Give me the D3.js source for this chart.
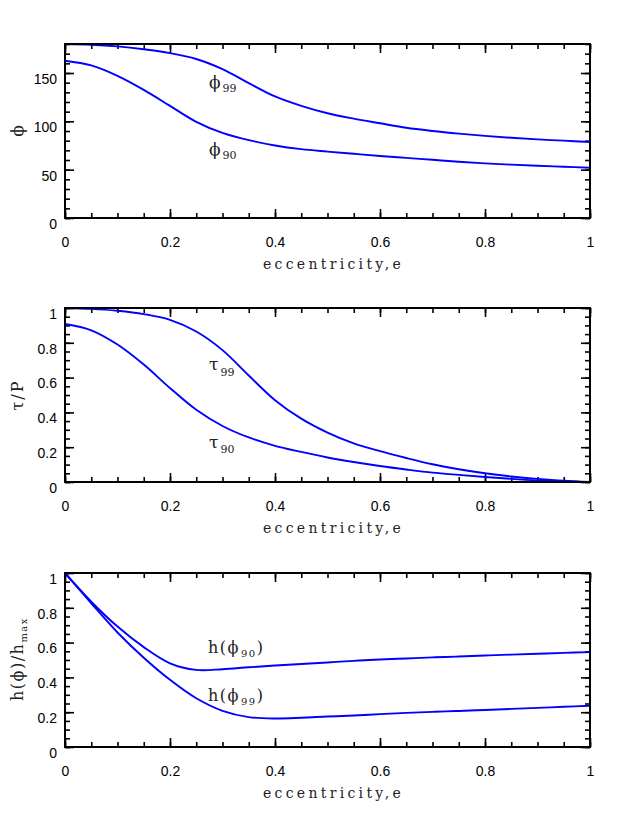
<!DOCTYPE html>
<html>
<head>
<meta charset="utf-8">
<script src="https://cdn.jsdelivr.net/npm/d3@7"></script>
<style>
  body { margin: 0; background: #fff; }
  .tick text { font-family: "Liberation Sans", Arial, sans-serif; font-size: 14px; fill: #000; }
  .lbl { font-family: "DejaVu Serif", serif; fill: #222; }
</style>
</head>
<body>
<svg id="chart" width="623" height="830"></svg>
<script>
// eccentricity grid
const ecc = [0, 0.05, 0.1, 0.15, 0.2, 0.25, 0.3, 0.35, 0.4, 0.45, 0.5,
             0.55, 0.6, 0.65, 0.7, 0.75, 0.8, 0.85, 0.9, 0.95, 1.0];

// top panel: phi (deg)
const phi99 = [180, 179.3, 177.5, 174.5, 170.5, 164.5, 154, 139.5, 125.7, 116, 108.4,
               102.8, 98, 93.3, 90, 87.3, 85, 83, 81.3, 80, 78.6];
const phi90 = [162.7, 157.8, 147, 132.5, 116, 99.5, 88, 80.5, 75, 71.2, 68.7,
               66.4, 64.2, 62.2, 60.2, 58.2, 56.5, 55.2, 54, 53, 52];

// middle panel: tau / P
const tau99 = [1.0, 0.995, 0.984, 0.965, 0.932, 0.865, 0.758, 0.612, 0.47, 0.364, 0.284,
               0.222, 0.177, 0.138, 0.102, 0.073, 0.05, 0.032, 0.018, 0.007, 0];
const tau90 = [0.908, 0.872, 0.79, 0.675, 0.54, 0.415, 0.322, 0.256, 0.208, 0.173, 0.141,
               0.115, 0.092, 0.072, 0.054, 0.041, 0.029, 0.018, 0.009, 0.003, 0];

// bottom panel: h(phi)/h_max
const h90 = [1, 0.835, 0.692, 0.574, 0.481, 0.443, 0.447, 0.458, 0.468, 0.477, 0.486,
             0.495, 0.503, 0.509, 0.515, 0.52, 0.526, 0.531, 0.536, 0.541, 0.545];
const h99 = [1, 0.826, 0.658, 0.513, 0.386, 0.28, 0.208, 0.172, 0.164, 0.168, 0.175,
             0.181, 0.189, 0.196, 0.202, 0.207, 0.213, 0.219, 0.225, 0.231, 0.237];

const xMajor = [0, 0.2, 0.4, 0.6, 0.8, 1];
const xLabels = ["0", "0.2", "0.4", "0.6", "0.8", "1"];

const svg = d3.select("#chart");
const left = 65, right = 590, ph = 174;
const x = d3.scaleLinear().domain([0, 1]).range([left, right]);
const xMinor = d3.range(0, 1.0001, 0.05).map(v => +v.toFixed(2));

function drawPanel(top, yMax, yMajor, yStep, yLabels, series) {
  const y = d3.scaleLinear().domain([0, yMax]).range([top + ph, top]);
  const yMinor = d3.range(0, yMax + 1e-6, yStep).map(v => +v.toFixed(3));
  const g = svg.append("g");

  // minor ticks, all four sides, pointing inward
  g.append("g").attr("transform", `translate(0,${top + ph})`)
    .call(d3.axisBottom(x).tickValues(xMinor).tickSize(-5).tickFormat(""));
  g.append("g").attr("transform", `translate(0,${top})`)
    .call(d3.axisTop(x).tickValues(xMinor).tickSize(-5).tickFormat(""));
  g.append("g").attr("transform", `translate(${left},0)`)
    .call(d3.axisLeft(y).tickValues(yMinor).tickSize(-5).tickFormat(""));
  g.append("g").attr("transform", `translate(${right},0)`)
    .call(d3.axisRight(y).tickValues(yMinor).tickSize(-5).tickFormat(""));

  // major ticks
  g.append("g").attr("transform", `translate(0,${top + ph})`)
    .call(d3.axisBottom(x).tickValues(xMajor).tickSize(-9).tickPadding(19)
      .tickFormat((d, i) => xLabels[i]));
  g.append("g").attr("transform", `translate(0,${top})`)
    .call(d3.axisTop(x).tickValues(xMajor).tickSize(-9).tickFormat(""));
  g.append("g").attr("transform", `translate(${left},0)`)
    .call(d3.axisLeft(y).tickValues(yMajor).tickSize(-9).tickPadding(8)
      .tickFormat((d, i) => yLabels[i]))
    .selectAll("text").attr("dy", "0.74em");
  g.append("g").attr("transform", `translate(${right},0)`)
    .call(d3.axisRight(y).tickValues(yMajor).tickSize(-9).tickFormat(""));

  g.selectAll(".domain").remove();
  g.selectAll(".tick line").attr("stroke", "#000").attr("stroke-width", 1.6);

  // curves
  const line = d3.line()
    .x((d, i) => x(ecc[i]))
    .y(d => y(d))
    .curve(d3.curveCatmullRom.alpha(0.5));
  series.forEach(s => {
    g.append("path")
      .datum(s)
      .attr("d", line)
      .attr("fill", "none")
      .attr("stroke", "#0000ff")
      .attr("stroke-width", 1.9);
  });

  // frame
  g.append("rect")
    .attr("x", left).attr("y", top)
    .attr("width", right - left).attr("height", ph)
    .attr("fill", "none").attr("stroke", "#000").attr("stroke-width", 2);

  // x axis title
  g.append("text").attr("class", "lbl")
    .attr("x", (left + right) / 2 + 6).attr("y", top + ph + 51)
    .attr("text-anchor", "middle")
    .style("font-size", "14px").style("letter-spacing", "3.3px")
    .text("eccentricity,e");
  return y;
}

// label helper: main text + subscript
function subLabel(xp, yp, main, sub, opts) {
  const t = svg.append("text").attr("class", "lbl")
    .attr("x", xp).attr("y", yp)
    .style("font-size", opts.size + "px").style("letter-spacing", (opts.ls || 0) + "px");
  t.append("tspan").text(main);
  t.append("tspan").attr("dy", opts.sdy).attr("dx", opts.sdx || 1)
    .style("font-size", opts.ssize + "px").text(sub);
  if (opts.after) {
    t.append("tspan").attr("dy", -opts.sdy).text(opts.after);
  }
  return t;
}

// panel 1
drawPanel(44, 180, [0, 50, 100, 150], 10, ["0", "50", "100", "150"], [phi99, phi90]);
subLabel(209, 88, "ϕ", "99", {size: 17, ssize: 11, sdy: 4, sdx: 2});
subLabel(209, 155, "ϕ", "90", {size: 17, ssize: 11, sdy: 4, sdx: 2});
svg.append("text").attr("class", "lbl")
  .attr("transform", "translate(23,131) rotate(-90)")
  .attr("text-anchor", "middle").style("font-size", "17px").text("ϕ");

// panel 2
const yTicks01 = [0, 0.2, 0.4, 0.6, 0.8, 1];
const yLab01 = ["0", "0.2", "0.4", "0.6", "0.8", "1"];
drawPanel(308, 1, yTicks01, 0.05, yLab01, [tau99, tau90]);
subLabel(209, 370, "τ", "99", {size: 17, ssize: 11, sdy: 6, sdx: 2});
subLabel(209, 448, "τ", "90", {size: 17, ssize: 11, sdy: 5, sdx: 2});
svg.append("text").attr("class", "lbl")
  .attr("transform", "translate(23,395) rotate(-90)")
  .attr("text-anchor", "middle").style("font-size", "16px").style("letter-spacing", "2px")
  .text("τ/P");

// panel 3
drawPanel(573, 1, yTicks01, 0.05, yLab01, [h90, h99]);
subLabel(208, 653, "h(ϕ", "90", {size: 16, ssize: 10, sdy: 4, sdx: 1, ls: 1.5, after: ")"});
subLabel(208, 701, "h(ϕ", "99", {size: 16, ssize: 10, sdy: 4, sdx: 1, ls: 1.5, after: ")"});
const yl = svg.append("text").attr("class", "lbl")
  .attr("transform", "translate(23,659) rotate(-90)")
  .attr("text-anchor", "middle").style("font-size", "16px").style("letter-spacing", "1.5px");
yl.append("tspan").text("h(ϕ)/h");
yl.append("tspan").attr("dy", 4).style("font-size", "10px").text("max");
</script>
</body>
</html>
